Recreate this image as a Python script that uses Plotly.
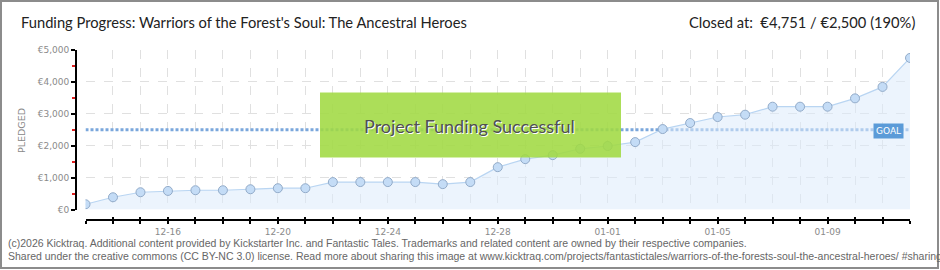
import plotly.graph_objects as go
import pandas as pd

# ---- data ----
dates = pd.date_range("2025-12-13", "2026-01-12", freq="D")
pledged = [165, 384, 541, 582, 604, 604, 635, 667, 667, 860, 860, 860, 860, 795, 860,
           1327, 1579, 1704, 1903, 1990, 2113, 2522, 2711, 2899, 2972, 3223, 3223, 3223,
           3484, 3843, 4751]
goal = 2500
y_tickvals = [0, 1000, 2000, 3000, 4000, 5000]
y_ticktext = ["€0", "€1,000", "€2,000", "€3,000", "€4,000", "€5,000"]
x_ticktext = [d.strftime("%m-%d") if (i - 3) % 4 == 0 else "" for i, d in enumerate(dates)]

title_left = "Funding Progress: Warriors of the Forest's Soul: The Ancestral Heroes"
title_right = "Closed at:  €4,751 / €2,500 (190%)"
footer1 = ("(c)2026 Kicktraq. Additional content provided by Kickstarter Inc. and Fantastic Tales. "
           "Trademarks and related content are owned by their respective companies.")
footer2 = ("Shared under the creative commons (CC BY-NC 3.0) license. Read more about sharing this image at "
           "www.kicktraq.com/projects/fantastictales/warriors-of-the-forests-soul-the-ancestral-heroes/ #sharing")

# ---- geometry (pixels) ----
FW, FH = 940, 270
L, R, T, B = 76, 910, 50, 220
W, H = R - L, B - T


def px(x):
    return (x - L) / W


def py(y):
    return (B - y) / H


xdom0 = px(85.5)
ydom0 = py(209.5)

LABEL_FONT = dict(family="DejaVu Sans", size=9, color="#8a8a8a")
TITLE_FAMILY = "Lato, Roboto, Liberation Sans"
FOOT_FAMILY = "Liberation Sans, Arial"

fig = go.Figure()

# goal line
fig.add_trace(go.Scatter(
    x=[dates[0], dates[-1]], y=[goal, goal], mode="lines",
    line=dict(color="#7aa7dc", width=3, dash="3px,2px"),
    hoverinfo="skip", showlegend=False))

# pledged area + line + markers
fig.add_trace(go.Scatter(
    x=dates, y=pledged, mode="lines+markers",
    line=dict(color="#b9d5f2", width=1.2),
    fill="tozeroy", fillcolor="rgba(220,235,252,0.55)",
    marker=dict(size=9, color="#c4dcf6", line=dict(color="#92abc9", width=1)),
    showlegend=False))

# invisible trace on overlay axis (for crossing ticks)
fig.add_trace(go.Scatter(x=[dates[0]], y=[0], xaxis="x2", mode="markers",
                         marker=dict(opacity=0), hoverinfo="skip", showlegend=False))

fig.update_layout(
    width=FW, height=FH,
    margin=dict(l=L, r=FW - R, t=T, b=FH - B),
    paper_bgcolor="white", plot_bgcolor="white",
    showlegend=False,
    xaxis=dict(
        type="date", domain=[xdom0, 1], anchor="free", position=0,
        range=[dates[0], dates[-1]],
        tickmode="array", tickvals=list(dates), ticktext=x_ticktext,
        showline=True, linecolor="black", linewidth=2,
        ticks="outside", ticklen=3, tickwidth=1.5, tickcolor="black",
        showgrid=True, gridcolor="#e0e0e0", griddash="dash", gridwidth=1,
        tickfont=LABEL_FONT, zeroline=False, fixedrange=True,
    ),
    xaxis2=dict(
        type="date", domain=[xdom0, 1], anchor="free", position=0, overlaying="x",
        range=[dates[0], dates[-1]],
        tickmode="array", tickvals=list(dates), showticklabels=False,
        ticks="inside", ticklen=3, tickwidth=1.5, tickcolor="black",
        showgrid=False, showline=False, zeroline=False,
    ),
    yaxis=dict(
        domain=[ydom0, 1], anchor="free", position=0,
        range=[0, 5000],
        tickmode="array", tickvals=y_tickvals, ticktext=y_ticktext,
        showline=True, linecolor="black", linewidth=2,
        ticks="outside", ticklen=4, tickwidth=1.5, tickcolor="black",
        minor=dict(dtick=500, ticks="outside", ticklen=3, tickcolor="#e02020", tickwidth=1.5,
                   showgrid=False),
        showgrid=True, gridcolor="#e0e0e0", griddash="dash", gridwidth=1,
        tickfont=LABEL_FONT, zeroline=False, fixedrange=True,
    ),
)

shapes = []
# outer frame
shapes.append(dict(type="rect", xref="paper", yref="paper",
                   x0=px(1), x1=px(938), y0=py(1), y1=py(268),
                   line=dict(color="#8c8c8c", width=2), fillcolor="rgba(0,0,0,0)", layer="below"))
# success box
shapes.append(dict(type="rect", xref="paper", yref="paper",
                   x0=px(320), x1=px(621), y0=py(92.5), y1=py(157.5),
                   line=dict(width=0), fillcolor="rgba(160,218,66,0.88)", layer="above"))
fig.update_layout(shapes=shapes)

ann = []
ann.append(dict(text=title_left, xref="paper", yref="paper", x=px(19), y=py(22),
                xanchor="left", yanchor="middle", showarrow=False,
                font=dict(family=TITLE_FAMILY, size=14.7, color="#222")))
ann.append(dict(text=title_right, xref="paper", yref="paper", x=px(917), y=py(22),
                xanchor="right", yanchor="middle", showarrow=False,
                font=dict(family=TITLE_FAMILY, size=14.7, color="#222")))
ann.append(dict(text="PLEDGED", xref="paper", yref="paper", x=px(21), y=py(130),
                xanchor="center", yanchor="middle", showarrow=False, textangle=-90,
                font=dict(family="DejaVu Sans", size=9.5, color="#888")))
ann.append(dict(text="Project Funding Successful", xref="paper", yref="paper",
                x=px(469), y=py(126), xanchor="center", yanchor="middle", showarrow=False,
                font=dict(family=TITLE_FAMILY, size=18, color="#505050", shadow="1px 1px 0px #ffffff")))
ann.append(dict(text="GOAL", xref="paper", yref="paper", x=px(888), y=py(130.5),
                xanchor="center", yanchor="middle", showarrow=False,
                bgcolor="#5b9bd8", borderpad=2,
                font=dict(family="DejaVu Sans", size=9, color="white")))
ann.append(dict(text=footer1, xref="paper", yref="paper", x=px(6), y=py(243),
                xanchor="left", yanchor="middle", showarrow=False,
                font=dict(family=FOOT_FAMILY, size=10.5, color="#666")))
ann.append(dict(text=footer2, xref="paper", yref="paper", x=px(6), y=py(256),
                xanchor="left", yanchor="middle", showarrow=False,
                font=dict(family=FOOT_FAMILY, size=10.5, color="#666")))
fig.update_layout(annotations=ann)

fig.write_html("out.html")
